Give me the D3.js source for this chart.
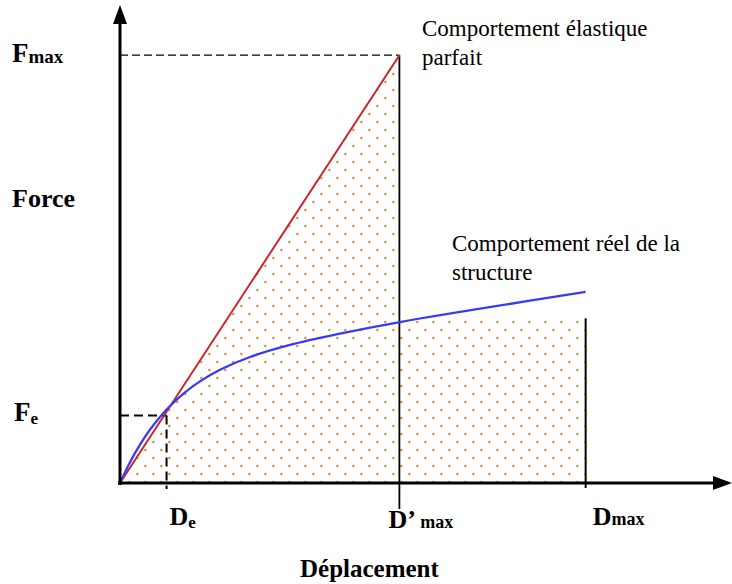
<!DOCTYPE html>
<html>
<head>
<meta charset="utf-8">
<script src="https://cdn.jsdelivr.net/npm/d3@7"></script>
<style>
  html, body { margin: 0; padding: 0; background: #fff; }
  svg { display: block; }
  text { font-family: "Liberation Serif", "Times New Roman", serif; fill: #000; }
</style>
</head>
<body>
<svg id="chart" width="732" height="584"></svg>
<script>
// ---- data (force / displacement, arbitrary units) ----
const dispKeys   = ["De", "D'max", "Dmax"];
const dispValues = [1, 6, 10];
const forceKeys   = ["Fe", "Fmax"];
const forceValues = [1.58, 10];
// perfectly elastic behaviour: straight line from origin to (D'max, Fmax)
const elasticD = [0, 6];
const elasticF = [0, 10];
// real behaviour of the structure
const realD = [0, 0.215, 0.43, 0.644, 0.859, 1.074, 1.396, 1.718, 2.148, 2.792, 3.651, 4.725, 6.01, 10.0];
const realF = [0, 0.486, 0.895, 1.246, 1.545, 1.80, 2.12, 2.375, 2.646, 2.945, 3.228, 3.492, 3.763, 4.465];
// energy area (dotted): under elastic line up to D'max, then rectangle to Dmax
const areaD = [0, 6, 6, 10, 10];
const areaF = [0, 10, 3.85, 3.85, 0];
const dmaxTopF = 3.85;
const annotations = ["Comportement élastique", "parfait", "Comportement réel de la", "structure"];

// ---- scales ----
const x = d3.scaleLinear().domain([0, 13.1]).range([120, 730]);
const y = d3.scaleLinear().domain([0, 11.15]).range([483, 6]);

const svg = d3.select("#chart");
const defs = svg.append("defs");
const pat = defs.append("pattern").attr("id", "dots")
  .attr("patternUnits", "userSpaceOnUse").attr("width", 16).attr("height", 16);
pat.append("circle").attr("cx", 1.3).attr("cy", 2).attr("r", 1.2).attr("fill", "#f77e30");
pat.append("circle").attr("cx", 9.3).attr("cy", 10).attr("r", 1.2).attr("fill", "#f77e30");

const D = k => dispValues[dispKeys.indexOf(k)];
const F = k => forceValues[forceKeys.indexOf(k)];

// dotted area
const areaPts = areaD.map((d, i) => [x(d), y(areaF[i])]);
svg.append("path").attr("d", d3.line()(areaPts) + "Z").attr("fill", "url(#dots)");

// dashed guides
svg.append("line").attr("x1", x(0)).attr("x2", x(D("D'max")))
  .attr("y1", y(F("Fmax"))).attr("y2", y(F("Fmax")))
  .attr("stroke", "#000").attr("stroke-width", 1.2).attr("stroke-dasharray", "8,4");
svg.append("line").attr("x1", x(0)).attr("x2", x(D("De")))
  .attr("y1", y(F("Fe"))).attr("y2", y(F("Fe")))
  .attr("stroke", "#000").attr("stroke-width", 2).attr("stroke-dasharray", "9,5");
svg.append("line").attr("x1", x(D("De"))).attr("x2", x(D("De")))
  .attr("y1", y(F("Fe"))).attr("y2", y(0) + 6)
  .attr("stroke", "#000").attr("stroke-width", 2).attr("stroke-dasharray", "9,5");

// vertical lines at D'max and Dmax
svg.append("line").attr("x1", x(D("D'max"))).attr("x2", x(D("D'max")))
  .attr("y1", y(F("Fmax"))).attr("y2", y(0) + 26)
  .attr("stroke", "#000").attr("stroke-width", 1.8);
svg.append("line").attr("x1", x(D("Dmax"))).attr("x2", x(D("Dmax")))
  .attr("y1", y(dmaxTopF)).attr("y2", y(0) + 5)
  .attr("stroke", "#000").attr("stroke-width", 2);

// curves
svg.append("path")
  .attr("d", d3.line()(elasticD.map((d, i) => [x(d), y(elasticF[i])])))
  .attr("fill", "none").attr("stroke", "#c8262c").attr("stroke-width", 2);
svg.append("path")
  .attr("d", d3.line().curve(d3.curveCatmullRom.alpha(0.5))(realD.map((d, i) => [x(d), y(realF[i])])))
  .attr("fill", "none").attr("stroke", "#3a3af5").attr("stroke-width", 2.3);

// axes with arrows
svg.append("line").attr("x1", x(0)).attr("x2", x(0)).attr("y1", y(0) + 2).attr("y2", 20)
  .attr("stroke", "#000").attr("stroke-width", 3);
svg.append("path").attr("d", `M${x(0)},5 L${x(0) - 7},24 L${x(0) + 7},24 Z`).attr("fill", "#000");
svg.append("line").attr("x1", x(0) - 2).attr("x2", 716).attr("y1", y(0)).attr("y2", y(0))
  .attr("stroke", "#000").attr("stroke-width", 3);
svg.append("path").attr("d", `M732,${y(0)} L713,${y(0) - 7} L713,${y(0) + 7} Z`).attr("fill", "#000");

// labels
function subLabel(px, py, main, sub, big, small, dy) {
  const t = svg.append("text").attr("x", px).attr("y", py).attr("font-weight", "bold");
  t.append("tspan").attr("font-size", big).text(main);
  t.append("tspan").attr("font-size", small).attr("dy", dy).text(sub);
  return t;
}
subLabel(12, y(F("Fmax")) + 7, "F", "max", 27, 19, 1);
subLabel(14, 421, "F", "e", 27, 17, 3);
svg.append("text").attr("x", 12).attr("y", 207).attr("font-weight", "bold").attr("font-size", 26).text("Force");

subLabel(x(D("De")) + 3, 525, "D", "e", 26, 17, 3);
subLabel(x(D("D'max")) - 11, 528, "D\u2019", " max", 26, 18, 0);
subLabel(x(D("Dmax")) + 7, 525, "D", "max", 26, 18, 0);
svg.append("text").attr("x", 300).attr("y", 577).attr("font-weight", "bold").attr("font-size", 25).text("Déplacement");

svg.append("text").attr("x", 422).attr("y", 36).attr("font-size", 23).text(annotations[0]);
svg.append("text").attr("x", 422).attr("y", 65).attr("font-size", 23).text(annotations[1]);
svg.append("text").attr("x", 452).attr("y", 251).attr("font-size", 23).text(annotations[2]);
svg.append("text").attr("x", 452).attr("y", 280).attr("font-size", 23).text(annotations[3]);
</script>
</body>
</html>
